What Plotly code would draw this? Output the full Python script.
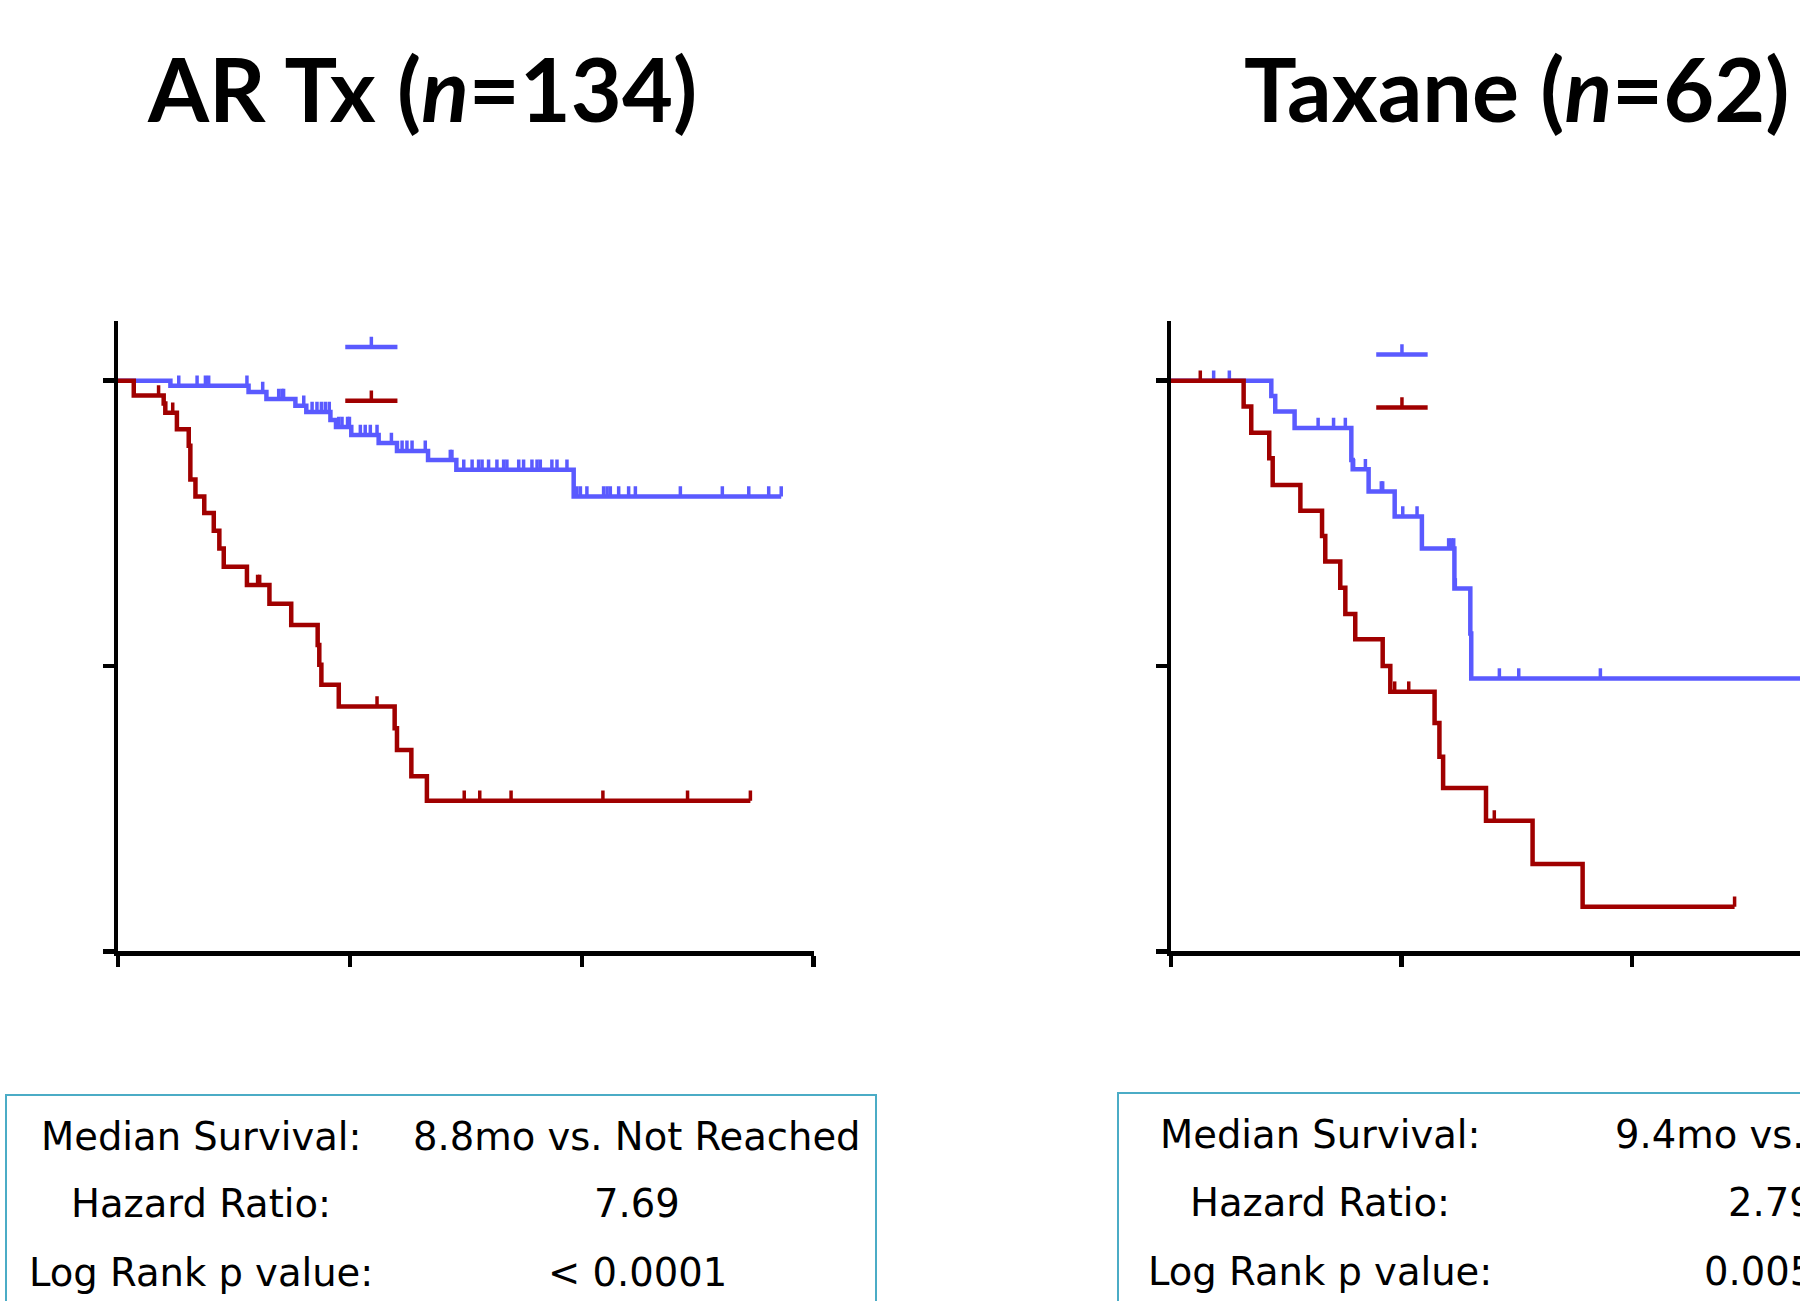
import plotly.graph_objects as go

# ---------------- data (months, survival fraction) ----------------
AR_BLUE_EVENT_T = [2.26, 5.63, 6.40, 7.65, 8.12, 9.16, 9.40, 10.06, 11.24, 12.03, 13.37, 14.59, 19.65]
AR_BLUE_EVENT_S = [0.991, 0.980, 0.968, 0.956, 0.945, 0.931, 0.919, 0.905, 0.891, 0.877, 0.861, 0.844, 0.797]
AR_BLUE_END = 28.60
AR_BLUE_CENSOR = [2.62, 3.41, 3.77, 3.91, 5.56, 6.24, 6.93, 7.07, 7.14, 8.01, 8.37, 8.58, 8.77, 8.94,
                  9.11, 9.52, 9.66, 9.90, 9.98, 10.45, 10.66, 10.88, 11.17, 11.79, 12.25, 12.46, 12.68,
                  13.25, 14.33, 14.40, 14.91, 15.27, 15.55, 15.70, 15.98, 16.34, 16.63, 16.77, 17.28,
                  17.49, 17.85, 18.07, 18.21, 18.71, 18.93, 19.36, 19.79, 19.94, 20.22, 20.94, 21.09,
                  21.23, 21.59, 22.02, 22.31, 24.25, 26.06, 27.20, 28.06, 28.60]

AR_RED_EVENT_T = [0.68, 1.97, 2.04, 2.54, 3.05, 3.12, 3.34, 3.72, 4.13, 4.37, 4.56, 5.56, 6.53, 7.47,
                  8.61, 8.68, 8.77, 9.52, 11.93, 12.03, 12.65, 13.32]
AR_RED_EVENT_S = [0.974, 0.960, 0.944, 0.915, 0.886, 0.827, 0.797, 0.768, 0.737, 0.706, 0.674, 0.642,
                  0.609, 0.572, 0.537, 0.502, 0.467, 0.429, 0.391, 0.353, 0.307, 0.264]
AR_RED_END = 27.27
AR_RED_CENSOR = [1.75, 2.36, 6.02, 6.11, 11.17, 14.93, 15.60, 16.95, 20.91, 24.56, 27.27]

TAX_BLUE_EVENT_T = [4.35, 4.52, 5.36, 7.82, 7.88, 8.57, 9.70, 10.88, 12.29, 12.98, 13.02]
TAX_BLUE_EVENT_S = [0.973, 0.946, 0.917, 0.861, 0.845, 0.806, 0.762, 0.706, 0.636, 0.557, 0.478]
TAX_BLUE_END = 28.50
TAX_BLUE_CENSOR = [1.85, 2.53, 6.38, 7.05, 7.56, 7.92, 8.43, 9.12, 9.18, 10.05, 10.67, 12.04, 12.16,
                   12.26, 12.33, 14.24, 15.08, 18.62]

TAX_RED_EVENT_T = [3.15, 3.48, 4.26, 4.41, 5.61, 6.55, 6.69, 7.34, 7.56, 7.99, 9.18, 9.51, 11.43,
                   11.64, 11.80, 13.66, 15.68, 17.85]
TAX_RED_EVENT_S = [0.955, 0.909, 0.864, 0.817, 0.772, 0.728, 0.683, 0.637, 0.591, 0.547, 0.500,
                   0.455, 0.400, 0.341, 0.286, 0.229, 0.153, 0.078]
TAX_RED_END = 24.44
TAX_RED_CENSOR = [1.27, 9.70, 10.31, 14.02, 24.44]

X_TICKS = [0, 10, 20, 30]
Y_TICKS = [0, 0.5, 1.0]

TITLES = ["<b>AR Tx (<i>n</i>=134)</b>", "<b>Taxane (<i>n</i>=62)</b>"]
ROW_LABELS = ["Median Survival:", "Hazard Ratio:", "Log Rank p value:"]
AR_VALUES = ["8.8mo vs. Not Reached", "7.69", "< 0.0001"]
TAX_VALUES = ["9.4mo vs. 13.0mo", "2.79", "0.0052"]

# ---------------- styling ----------------
W, H = 1800, 1301
BLUE = "#5A5AFF"
RED = "#A00000"
BOX = "#4BACC6"
TICK_H = 0.018
CURVE_W = 4.5
TICK_W = 3.5


def surv_at(t, ev_t, ev_s):
    s = 1.0
    for et, es in zip(ev_t, ev_s):
        if et <= t:
            s = es
    return s


def km_traces(ev_t, ev_s, end, censor, color, xa, ya):
    xs = [0.0] + list(ev_t) + [end]
    ys = [1.0] + list(ev_s) + [ev_s[-1]]
    step = go.Scatter(x=xs, y=ys, mode="lines", line=dict(color=color, width=CURVE_W, shape="hv"),
                      xaxis=xa, yaxis=ya, hoverinfo="skip")
    cx, cy = [], []
    for c in censor:
        s = surv_at(c, ev_t, ev_s)
        cx += [c, c, None]
        cy += [s, s + TICK_H, None]
    ticks = go.Scatter(x=cx, y=cy, mode="lines", line=dict(color=color, width=TICK_W),
                       xaxis=xa, yaxis=ya, hoverinfo="skip")
    return [step, ticks]


fig = go.Figure()
for tr in km_traces(AR_BLUE_EVENT_T, AR_BLUE_EVENT_S, AR_BLUE_END, AR_BLUE_CENSOR, BLUE, "x", "y"):
    fig.add_trace(tr)
for tr in km_traces(AR_RED_EVENT_T, AR_RED_EVENT_S, AR_RED_END, AR_RED_CENSOR, RED, "x", "y"):
    fig.add_trace(tr)
for tr in km_traces(TAX_BLUE_EVENT_T, TAX_BLUE_EVENT_S, TAX_BLUE_END, TAX_BLUE_CENSOR, BLUE, "x2", "y2"):
    fig.add_trace(tr)
for tr in km_traces(TAX_RED_EVENT_T, TAX_RED_EVENT_S, TAX_RED_END, TAX_RED_CENSOR, RED, "x2", "y2"):
    fig.add_trace(tr)

# pixel geometry
Y0_PX, Y1_PX = 951.3, 380.7          # y = 0 and y = 1.0
Y_TOP = 1.105
PX_PER_Y = Y0_PX - Y1_PX
ydom = [(H - Y0_PX) / H, (H - (Y0_PX - Y_TOP * PX_PER_Y)) / H]

L_X0, L_PXM = 118.0, 23.19
R_X0, R_PXM = 1171.0, 23.06
xdom1 = [L_X0 / W, (L_X0 + 30 * L_PXM) / W]
xdom2 = [R_X0 / W, 1.0]
x2max = (W - R_X0) / R_PXM

axis_common = dict(showgrid=False, zeroline=False, showline=True, linecolor="black", linewidth=4.5,
                   ticks="outside", ticklen=11, tickwidth=4.5, tickcolor="black", showticklabels=False)

fig.update_layout(
    width=W, height=H, margin=dict(l=0, r=0, t=0, b=0),
    paper_bgcolor="white", plot_bgcolor="white", showlegend=False,
    xaxis=dict(domain=xdom1, range=[0, 30], tickvals=X_TICKS, anchor="y", **axis_common),
    yaxis=dict(domain=ydom, range=[0, Y_TOP], tickvals=Y_TICKS, anchor="x", **axis_common),
    xaxis2=dict(domain=xdom2, range=[0, x2max], tickvals=X_TICKS, anchor="y2", **axis_common),
    yaxis2=dict(domain=ydom, range=[0, Y_TOP], tickvals=Y_TICKS, anchor="x2", **axis_common),
)

# legend glyphs (line with censor tick, no text)
shapes = []
for xr, yr, xa, xb, yb, yrr in [("x", "y", 9.80, 12.05, 1.059, 0.965), ("x2", "y2", 8.90, 11.13, 1.046, 0.953)]:
    xm = (xa + xb) / 2
    for yy, col in [(yb, BLUE), (yrr, RED)]:
        shapes.append(dict(type="line", xref=xr, yref=yr, x0=xa, x1=xb, y0=yy, y1=yy,
                           line=dict(color=col, width=4.5)))
        shapes.append(dict(type="line", xref=xr, yref=yr, x0=xm, x1=xm, y0=yy, y1=yy + TICK_H,
                           line=dict(color=col, width=TICK_W)))

# stat boxes
shapes.append(dict(type="rect", xref="paper", yref="paper", x0=6 / W, x1=876 / W,
                   y0=-0.2, y1=1 - 1095 / H, line=dict(color=BOX, width=2)))
shapes.append(dict(type="rect", xref="paper", yref="paper", x0=1118 / W, x1=1.3,
                   y0=-0.2, y1=1 - 1093 / H, line=dict(color=BOX, width=2)))
fig.update_layout(shapes=shapes)

ann = []
for txt, cx in zip(TITLES, [422, 1516]):
    ann.append(dict(text=txt, x=cx / W, y=1 - 88 / H, xref="paper", yref="paper",
                    xanchor="center", yanchor="middle", showarrow=False,
                    font=dict(family="Lato", size=88, color="black")))

TABLE_FONT = dict(family="DejaVu Sans", size=38.5, color="black")
for rows_y, lab_cx, val_cxs, vals in [([1136, 1203, 1272], 201, [637, 637, 637], AR_VALUES),
                                      ([1134, 1202, 1271], 1320, [1789, 1771, 1771], TAX_VALUES)]:
    for yy, lab, val, vcx in zip(rows_y, ROW_LABELS, vals, val_cxs):
        ann.append(dict(text=lab, x=lab_cx / W, y=1 - yy / H, xref="paper", yref="paper",
                        xanchor="center", yanchor="middle", showarrow=False, font=TABLE_FONT))
        ann.append(dict(text=val, x=vcx / W, y=1 - yy / H, xref="paper", yref="paper",
                        xanchor="center", yanchor="middle", showarrow=False, font=TABLE_FONT))
fig.update_layout(annotations=ann)

fig.write_html("out.html", config={"displayModeBar": False, "staticPlot": True},
               post_script="document.body.style.margin='0px';document.body.style.overflow='hidden';")
